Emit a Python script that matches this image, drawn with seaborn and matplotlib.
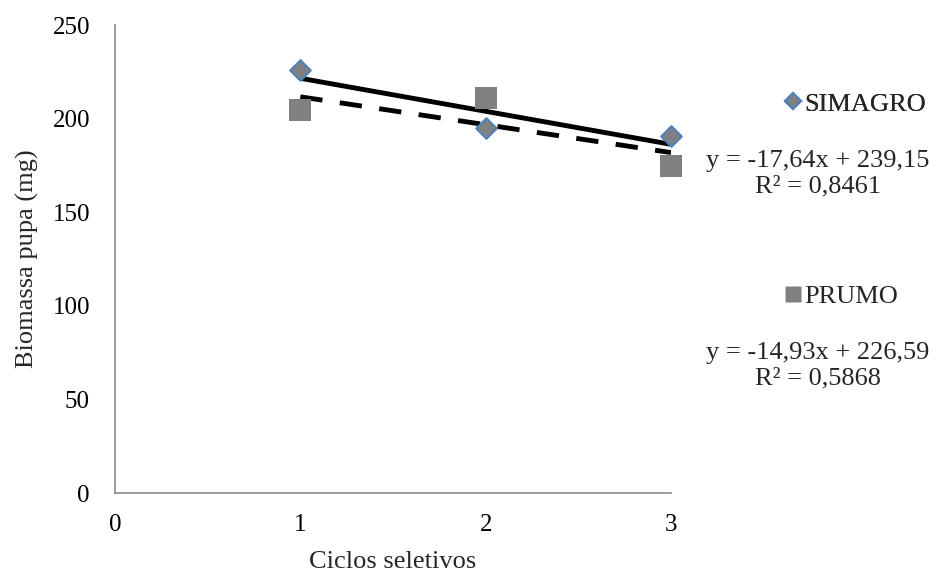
import numpy as np
import pandas as pd
import seaborn as sns
import matplotlib
matplotlib.use("Agg")
import matplotlib.pyplot as plt
from matplotlib.lines import Line2D

ciclos = [1, 2, 3]
simagro = [226.0, 195.0, 190.7]
prumo = [204.5, 211.0, 174.7]
eq_simagro = ["y = -17,64x + 239,15", "R² = 0,8461"]
eq_prumo = ["y = -14,93x + 226,59", "R² = 0,5868"]
x_ticks = [0, 1, 2, 3]
y_ticks = [0, 50, 100, 150, 200, 250]

sns.set_theme(style="white")
plt.rcParams['font.family'] = ['Liberation Serif', 'DejaVu Serif']

FS = 18
FS2 = 19

df = pd.DataFrame({"Ciclos": ciclos * 2,
                   "Biomassa": simagro + prumo,
                   "Cultivar": ["SIMAGRO"] * 3 + ["PRUMO"] * 3})

fig = plt.figure(figsize=(9.39, 5.73), dpi=100)
ax = fig.add_axes([115/939, (573-493)/573, (671-115)/939, (493-25)/573])

gray = "#808080"
blue = "#4F81BD"

# trendlines
for vals, ls in [(simagro, "-"), (prumo, (0, (4.6, 3.6)))]:
    coef = np.polyfit(ciclos, vals, 1)
    xs = np.array([ciclos[0], ciclos[-1]])
    ax.plot(xs, np.polyval(coef, xs), color="black", lw=3.5, ls=ls, zorder=2,
            solid_capstyle="butt", dash_capstyle="butt")

sns.scatterplot(data=df[df.Cultivar == "SIMAGRO"], x="Ciclos", y="Biomassa", ax=ax,
                marker="D", s=110, color=gray, edgecolor=blue, linewidth=1.5, zorder=3,
                legend=False, clip_on=False)
sns.scatterplot(data=df[df.Cultivar == "PRUMO"], x="Ciclos", y="Biomassa", ax=ax,
                marker="s", s=250, color=gray, edgecolor="none", linewidth=0, zorder=3,
                legend=False, clip_on=False)

ax.set_xlim(0, 3)
ax.set_ylim(0, 250)
ax.set_xticks(x_ticks)
ax.set_yticks(y_ticks)
ax.tick_params(axis="both", labelsize=FS, colors="black", length=7, width=1.2,
               direction="out", color="#8c8c8c")
ax.tick_params(axis="y", pad=11)
ax.tick_params(axis="x", pad=8)
for side in ["top", "right"]:
    ax.spines[side].set_visible(False)
for side in ["left", "bottom"]:
    ax.spines[side].set_color("#8c8c8c")
    ax.spines[side].set_linewidth(1.2)
ax.set_xlabel("Ciclos seletivos", fontsize=FS2, labelpad=11)
ax.set_ylabel("Biomassa pupa (mg)", fontsize=FS2, labelpad=10)
ax.grid(False)

# legends
h1 = Line2D([], [], marker="D", ls="none", markersize=8, markerfacecolor=gray,
            markeredgecolor=blue, markeredgewidth=1.5)
h2 = Line2D([], [], marker="s", ls="none", markersize=12, markerfacecolor=gray,
            markeredgecolor="none")
leg1 = fig.legend([h1], ["SIMAGRO"], loc="center left", bbox_to_anchor=(782/939, 1-104/573),
                  frameon=False, fontsize=FS2, handlelength=0.8, handletextpad=0.05,
                  borderaxespad=0, borderpad=0)
fig.add_artist(leg1)
fig.legend([h2], ["PRUMO"], loc="center left", bbox_to_anchor=(782/939, 1-296/573),
           frameon=False, fontsize=FS2, handlelength=0.8, handletextpad=0.05,
           borderaxespad=0, borderpad=0)

fig.text(818/939, 1-161/573, eq_simagro[0], ha="center", va="center", fontsize=FS2)
fig.text(818/939, 1-186/573, eq_simagro[1], ha="center", va="center", fontsize=FS2)
fig.text(818/939, 1-353/573, eq_prumo[0], ha="center", va="center", fontsize=FS2)
fig.text(818/939, 1-378/573, eq_prumo[1], ha="center", va="center", fontsize=FS2)

fig.savefig("out.png", dpi=100)
